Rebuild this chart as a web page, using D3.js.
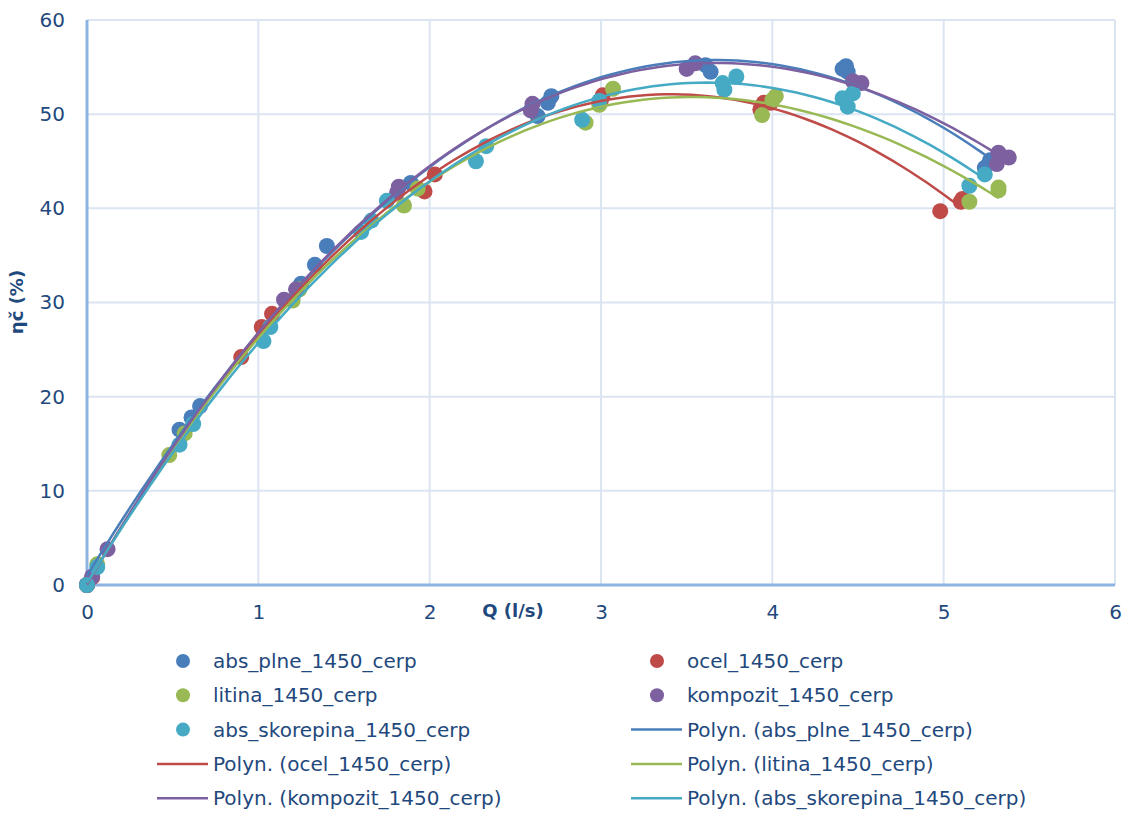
<!DOCTYPE html>
<html>
<head>
<meta charset="utf-8">
<script src="https://cdn.jsdelivr.net/npm/d3@7"></script>
<style>
  body { margin: 0; background: #fff; }
  text { font-family: "DejaVu Sans", "Open Sans", sans-serif; fill: #1f497d; }
</style>
</head>
<body>
<div id="chart"></div>
<script>
// measured points [Q (l/s), eta (%)]
var absPlne = [[0, 0], [0.54, 16.5], [0.61, 17.8], [0.66, 19.0], [1.25, 32.0], [1.33, 34.0],
    [1.40, 36.0], [1.89, 42.7], [2.63, 49.8], [2.69, 51.2], [2.71, 51.9], [3.61, 55.2],
    [3.64, 54.5], [4.41, 54.8], [4.43, 55.1], [4.44, 54.5], [5.24, 44.3], [5.27, 45.1]];
var ocel = [[0, 0], [0.03, 0.8], [0.90, 24.2], [1.02, 27.4], [1.08, 28.8], [1.97, 41.8],
    [2.03, 43.6], [3.00, 51.5], [3.01, 52.0], [3.93, 50.5], [3.95, 51.2], [3.99, 51.2],
    [4.98, 39.7], [5.10, 40.7], [5.11, 41.0]];
var litina = [[0, 0], [0.06, 2.2], [0.48, 13.8], [0.57, 16.1], [1.20, 30.2], [1.24, 31.4],
    [1.85, 40.3], [1.93, 42.1], [2.91, 49.1], [2.99, 51.0], [3.07, 52.7], [3.94, 49.9],
    [4.00, 51.5], [4.02, 51.9], [5.15, 40.7], [5.32, 41.9], [5.32, 42.2]];
var kompozit = [[0, 0], [0.03, 0.9], [0.12, 3.8], [1.15, 30.3], [1.22, 31.4], [1.81, 41.7],
    [1.82, 42.3], [2.59, 50.4], [2.60, 51.1], [3.50, 54.8], [3.55, 55.4], [4.47, 53.5],
    [4.52, 53.3], [5.31, 44.7], [5.32, 45.9], [5.38, 45.4]];
var absSkorepina = [[0, 0], [0.06, 1.9], [0.54, 14.9], [0.62, 17.1], [1.03, 25.9], [1.07, 27.4],
    [1.60, 37.5], [1.66, 38.7], [1.75, 40.8], [2.27, 45.0], [2.33, 46.6], [2.89, 49.4],
    [2.99, 51.4], [3.71, 53.3], [3.72, 52.6], [3.79, 54.0], [4.41, 51.7], [4.44, 50.8],
    [4.47, 52.2], [5.15, 42.4], [5.24, 43.6]];

var seriesNames = ["abs_plne_1450_cerp", "ocel_1450_cerp", "litina_1450_cerp",
    "kompozit_1450_cerp", "abs_skorepina_1450_cerp"];
var seriesData = [absPlne, ocel, litina, kompozit, absSkorepina];
var colors = ["#4a7ebb", "#be4b48", "#98b954", "#7d60a0", "#46aac5"];

var xTicks = [0, 1, 2, 3, 4, 5, 6];
var yTicks = [0, 10, 20, 30, 40, 50, 60];

var width = 1130, height = 814;
var plotLeft = 87, plotRight = 1115, plotTop = 20, plotBottom = 585;

var svg = d3.select("#chart").append("svg")
    .attr("width", width)
    .attr("height", height);

var xScale = d3.scaleLinear().domain([0, 6]).range([plotLeft, plotRight]);
var yScale = d3.scaleLinear().domain([0, 60]).range([plotBottom, plotTop]);

// grid
svg.append("g").selectAll("line").data(xTicks.slice(1)).enter().append("line")
    .attr("x1", function (d) { return xScale(d); })
    .attr("x2", function (d) { return xScale(d); })
    .attr("y1", plotTop).attr("y2", plotBottom)
    .attr("stroke", "#dbe5f2").attr("stroke-width", 2);
svg.append("g").selectAll("line").data(yTicks.slice(1)).enter().append("line")
    .attr("x1", plotLeft).attr("x2", plotRight)
    .attr("y1", function (d) { return yScale(d); })
    .attr("y2", function (d) { return yScale(d); })
    .attr("stroke", "#dbe5f2").attr("stroke-width", 2);

// axes
var xAxis = d3.axisBottom(xScale).tickValues(xTicks).tickFormat(d3.format("d"))
    .tickSize(0).tickPadding(20);
var yAxis = d3.axisLeft(yScale).tickValues(yTicks).tickFormat(d3.format("d"))
    .tickSize(0).tickPadding(22);
var gx = svg.append("g").attr("transform", "translate(0," + plotBottom + ")").call(xAxis);
var gy = svg.append("g").attr("transform", "translate(" + plotLeft + ",0)").call(yAxis);
[gx, gy].forEach(function (g) {
    g.select(".domain").remove();
    g.selectAll("text").style("font-size", "20px").attr("fill", "#1f497d")
        .style("font-family", "'DejaVu Sans', sans-serif");
});
svg.append("line").attr("x1", plotLeft).attr("x2", plotLeft).attr("y1", plotTop).attr("y2", plotBottom + 1)
    .attr("stroke", "#8db3e2").attr("stroke-width", 3);
svg.append("line").attr("x1", plotLeft).attr("x2", plotRight).attr("y1", plotBottom).attr("y2", plotBottom)
    .attr("stroke", "#8db3e2").attr("stroke-width", 3);

// axis titles
svg.append("text").attr("x", 513).attr("y", 617).attr("text-anchor", "middle")
    .style("font-size", "18px").style("font-weight", "bold").text("Q (l/s)");
svg.append("text").attr("transform", "translate(23,302) rotate(-90)").attr("text-anchor", "middle")
    .style("font-size", "18px").style("font-weight", "bold").text("ηč (%)");

// least squares polynomial trend (like Excel "Polyn.")
function polyFit(pts, order) {
    var n = order + 1, A = [], i, j, k;
    for (i = 0; i < n; i++) { A.push(new Array(n + 1).fill(0)); }
    pts.forEach(function (p) {
        for (i = 0; i < n; i++) {
            for (j = 0; j < n; j++) A[i][j] += Math.pow(p[0], i + j);
            A[i][n] += p[1] * Math.pow(p[0], i);
        }
    });
    for (i = 0; i < n; i++) {
        var m = i;
        for (k = i + 1; k < n; k++) if (Math.abs(A[k][i]) > Math.abs(A[m][i])) m = k;
        var t = A[i]; A[i] = A[m]; A[m] = t;
        for (k = i + 1; k < n; k++) {
            var f = A[k][i] / A[i][i];
            for (j = i; j <= n; j++) A[k][j] -= f * A[i][j];
        }
    }
    var c = new Array(n).fill(0);
    for (i = n - 1; i >= 0; i--) {
        var s = A[i][n];
        for (j = i + 1; j < n; j++) s -= A[i][j] * c[j];
        c[i] = s / A[i][i];
    }
    return function (x) {
        var y = 0;
        for (var q = 0; q < n; q++) y += c[q] * Math.pow(x, q);
        return y;
    };
}

var line = d3.line()
    .x(function (d) { return xScale(d[0]); })
    .y(function (d) { return yScale(d[1]); });

// points (drawn in series order)
seriesData.forEach(function (data, i) {
    svg.append("g").selectAll("circle").data(data).enter().append("circle")
        .attr("cx", function (d) { return xScale(d[0]); })
        .attr("cy", function (d) { return yScale(d[1]); })
        .attr("r", 8)
        .attr("fill", colors[i]);
});

// trend lines
seriesData.forEach(function (data, i) {
    var f = polyFit(data, 3);
    var ext = d3.extent(data, function (d) { return d[0]; });
    var curve = d3.range(0, 101).map(function (k) {
        var x = ext[0] + (ext[1] - ext[0]) * k / 100;
        return [x, f(x)];
    });
    svg.append("path").datum(curve).attr("d", line)
        .attr("fill", "none").attr("stroke", colors[i]).attr("stroke-width", 2.5);
});

// legend
var legendItems = [];
seriesNames.forEach(function (s, i) { legendItems.push({ name: s, color: colors[i], type: "dot" }); });
seriesNames.forEach(function (s, i) { legendItems.push({ name: "Polyn. (" + s + ")", color: colors[i], type: "line" }); });

var legend = svg.append("g");
legendItems.forEach(function (d, i) {
    var col = i % 2, row = Math.floor(i / 2);
    var tx = col === 0 ? 213 : 687;
    var ty = 661 + row * 34.3;
    if (d.type === "dot") {
        legend.append("circle").attr("cx", tx - 30).attr("cy", ty).attr("r", 7).attr("fill", d.color);
    } else {
        legend.append("line").attr("x1", tx - 56).attr("x2", tx - 5).attr("y1", ty).attr("y2", ty)
            .attr("stroke", d.color).attr("stroke-width", 2.5);
    }
    legend.append("text").attr("x", tx).attr("y", ty).attr("dy", "0.35em")
        .style("font-size", "20px").text(d.name);
});
</script>
</body>
</html>
